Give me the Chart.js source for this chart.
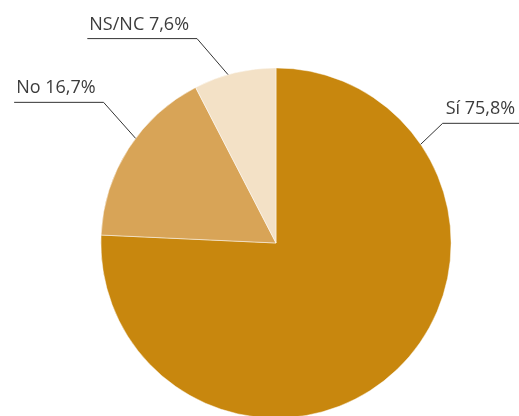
<!DOCTYPE html>
<html>
<head>
<meta charset="utf-8">
<script src="https://cdn.jsdelivr.net/npm/chart.js@4"></script>
<style>
  html, body { margin: 0; padding: 0; background: #fff; overflow: hidden; }
  #wrap { position: relative; width: 519px; height: 416px; overflow: hidden; }
  canvas { position: absolute; left: 0; top: 0; }
</style>
</head>
<body>
<div id="wrap"><canvas id="pie" width="519" height="440"></canvas></div>
<script>
const categories = ['Sí', 'No', 'NS/NC'];
const shares = [75.8, 16.7, 7.6];
const sliceColors = ['#C8870E', '#D8A457', '#F3E1C6'];

// where each leader line meets the rim (deg, screen coords) and how it bends
const leaders = [
    { angle: -34.3, dx: 22, dy: -21, side: 'right' },
    { angle: 216.7, dx: -32, dy: -36, side: 'left' },
    { angle: 254.1, dx: -31, dy: -36, side: 'left' },
];

const fmt = v => v.toFixed(1).replace('.', ',') + '%';

const leaderLabels = {
    id: 'leaderLabels',
    afterDatasetsDraw(chart) {
        const ctx = chart.ctx;
        const arcs = chart.getDatasetMeta(0).data;
        ctx.save();
        ctx.font = '18px "Open Sans", sans-serif';
        ctx.strokeStyle = '#333';
        ctx.lineWidth = 1;
        ctx.fillStyle = '#3c3c3c';
        ctx.textBaseline = 'alphabetic';
        arcs.forEach((arc, i) => {
            const L = leaders[i];
            const a = L.angle * Math.PI / 180;
            const x0 = arc.x + Math.cos(a) * arc.outerRadius;
            const y0 = arc.y + Math.sin(a) * arc.outerRadius;
            const x1 = x0 + L.dx, y1 = y0 + L.dy;
            const text = categories[i] + ' ' + fmt(shares[i]);
            const w = ctx.measureText(text).width;
            const len = w + 10;
            const x2 = L.side === 'right' ? x1 + len : x1 - len;
            ctx.beginPath();
            ctx.moveTo(x0, y0);
            ctx.lineTo(x1, y1);
            ctx.lineTo(x2, y1);
            ctx.stroke();
            ctx.textAlign = 'left';
            const tx = L.side === 'right' ? x1 + 3 : x2 + 2;
            ctx.fillText(text, tx, y1 - 9);
        });
        ctx.restore();
    }
};

new Chart(document.getElementById('pie'), {
    type: 'pie',
    data: {
        labels: categories,
        datasets: [{
            data: shares,
            backgroundColor: sliceColors,
            borderColor: 'rgba(255,255,255,0.6)',
            borderWidth: 0.8
        }]
    },
    options: {
        responsive: false,
        animation: false,
        layout: { padding: { top: 67.5, bottom: 21.5, left: 100.5, right: 67.5 } },
        plugins: {
            legend: { display: false },
            tooltip: { enabled: false }
        }
    },
    plugins: [leaderLabels]
});
</script>
</body>
</html>
